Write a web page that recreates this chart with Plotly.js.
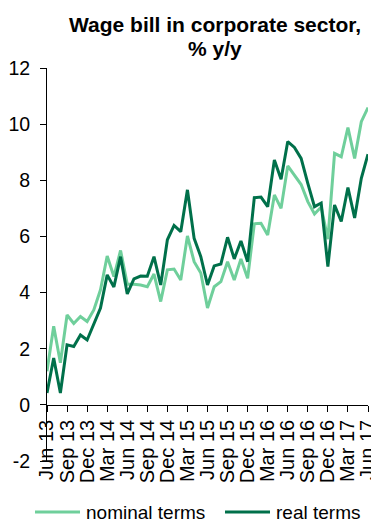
<!DOCTYPE html>
<html>
<head>
<meta charset="utf-8">
<script src="https://cdn.plot.ly/plotly-3.0.1.min.js"></script>
<style>html,body{margin:0;padding:0;background:#fff;}#chart{width:371px;height:522px;}</style>
</head>
<body>
<div id="chart"></div>
<script>
const months = [
  "Jun 13","Jul 13","Aug 13","Sep 13","Oct 13","Nov 13","Dec 13","Jan 14","Feb 14","Mar 14","Apr 14","May 14",
  "Jun 14","Jul 14","Aug 14","Sep 14","Oct 14","Nov 14","Dec 14","Jan 15","Feb 15","Mar 15","Apr 15","May 15",
  "Jun 15","Jul 15","Aug 15","Sep 15","Oct 15","Nov 15","Dec 15","Jan 16","Feb 16","Mar 16","Apr 16","May 16",
  "Jun 16","Jul 16","Aug 16","Sep 16","Oct 16","Nov 16","Dec 16","Jan 17","Feb 17","Mar 17","Apr 17","May 17",
  "Jun 17"
];
const nominal = [
  1.2, 2.8, 1.5, 3.2, 2.9, 3.15, 2.97, 3.38, 4.1, 5.3, 4.57, 5.5,
  4.3, 4.3, 4.27, 4.21, 4.66, 3.68, 4.81, 4.84, 4.45, 6.02, 5.1, 4.7,
  3.45, 4.21, 4.39, 5.1, 4.45, 5.2, 4.51, 6.45, 6.47, 6.05, 7.48, 7.0,
  8.51, 8.16, 7.85, 7.24, 6.8, 7.05, 5.9, 8.96, 8.84, 9.88, 8.78, 10.09,
  10.59
];
const real = [
  0.42, 1.67, 0.42, 2.14, 2.08, 2.49, 2.31, 2.91, 3.45, 4.63, 4.2, 5.28,
  3.95, 4.49, 4.59, 4.58, 5.28, 4.27, 5.88, 6.39, 6.17, 7.66, 5.93, 5.28,
  4.27, 4.95, 5.02, 5.97, 5.2, 5.84, 5.1, 7.38, 7.4, 7.06, 8.72, 8.04,
  9.38, 9.17, 8.78, 7.89, 7.06, 7.19, 4.93, 7.12, 6.53, 7.74, 6.66, 8.07,
  8.93
];
const seriesNames = ["nominal terms", "real terms"];
const seriesColors = ["#6FCF9B", "#00704A"];
const tickLabels = ["Jun 13","Sep 13","Dec 13","Mar 14","Jun 14","Sep 14","Dec 14","Mar 15","Jun 15","Sep 15","Dec 15","Mar 16","Jun 16","Sep 16","Dec 16","Mar 17","Jun 17"];
const yTicks = [-2, 0, 2, 4, 6, 8, 10, 12];
const titleLines = ["Wage bill in corporate sector,", "% y/y"];

const FAM = "Liberation Sans, Arial, sans-serif";
const W = 371, H = 522;
const M = {l: 47, r: 3, t: 68, b: 61};
const PW = W - M.l - M.r, PH = H - M.t - M.b;
const px = x => (x - M.l) / PW;      // pixel x -> paper x
const py = y => (H - M.b - y) / PH;  // pixel y -> paper y

const traces = [
  {x: months, y: nominal, type: "scatter", mode: "lines", name: seriesNames[0],
   line: {color: seriesColors[0], width: 3}},
  {x: months, y: real, type: "scatter", mode: "lines", name: seriesNames[1],
   line: {color: seriesColors[1], width: 3}}
];

// custom legend (samples 45px long like the reference)
const legendX = [35, 225];
const legendY = 512;
const shapes = [], annotations = [];
seriesNames.forEach((n, i) => {
  shapes.push({type: "line", xref: "paper", yref: "paper",
    x0: px(legendX[i]), x1: px(legendX[i] + 45), y0: py(legendY), y1: py(legendY),
    line: {color: seriesColors[i], width: 3}});
  annotations.push({xref: "paper", yref: "paper", x: px(legendX[i] + 50), y: py(legendY),
    xanchor: "left", yanchor: "middle", showarrow: false, text: n, borderpad: 0,
    font: {family: FAM, size: 19, color: "#000"}});
});
annotations.push({xref: "paper", yref: "paper", x: px(215), y: py(24.5),
  xanchor: "center", yanchor: "middle", showarrow: false, text: "<b>" + titleLines[0] + "</b>",
  font: {family: FAM, size: 21, color: "#000"}});
annotations.push({xref: "paper", yref: "paper", x: px(215), y: py(48),
  xanchor: "center", yanchor: "middle", showarrow: false, text: "<b>" + titleLines[1] + "</b>",
  font: {family: FAM, size: 21, color: "#000"}});

const layout = {
  width: W, height: H,
  margin: {l: M.l, r: M.r, t: M.t, b: M.b, pad: 0},
  paper_bgcolor: "#fff", plot_bgcolor: "#fff",
  font: {family: FAM, size: 19, color: "#000"},
  showlegend: false,
  xaxis: {
    type: "category",
    range: [0, 48],
    tickmode: "array",
    tickvals: tickLabels,
    ticktext: tickLabels,
    tickangle: -90,
    ticks: "outside", ticklen: 6, tickwidth: 1, tickcolor: "#000",
    showline: true, linecolor: "#000", linewidth: 1,
    showgrid: false, zeroline: false,
    anchor: "free", position: 2/14,
    tickfont: {family: FAM, size: 20, color: "#000"},
    automargin: false, fixedrange: true
  },
  yaxis: {
    range: [-2, 12],
    tickmode: "array",
    tickvals: yTicks,
    ticktext: yTicks.map(String),
    ticks: "outside", ticklen: 6, tickwidth: 1, tickcolor: "#000",
    showline: true, linecolor: "#000", linewidth: 1,
    showgrid: false, zeroline: false,
    tickfont: {family: FAM, size: 19.5, color: "#000"},
    ticklabelstandoff: 6,
    automargin: false, fixedrange: true
  },
  shapes: shapes,
  annotations: annotations
};

Plotly.newPlot("chart", traces, layout, {displayModeBar: false, staticPlot: true});
</script>
</body>
</html>
